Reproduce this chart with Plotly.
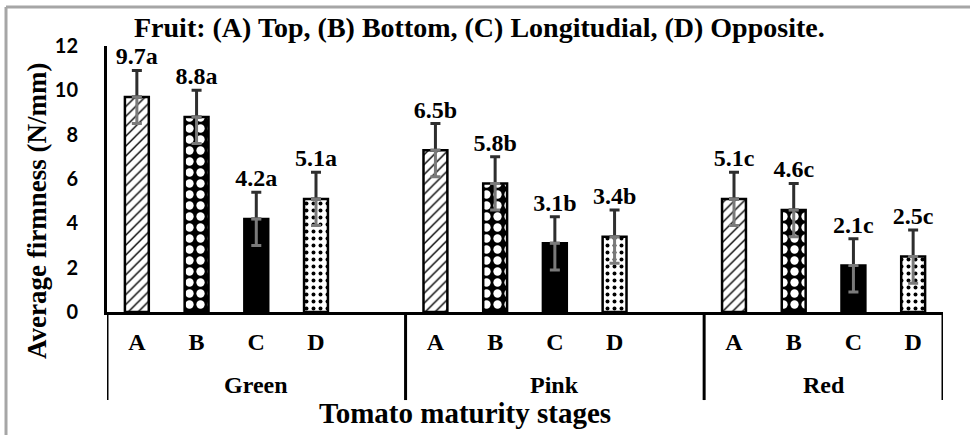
import plotly.graph_objects as go

# maturity stages and cut positions
stages = ["Green", "Pink", "Red"]
positions = ["A", "B", "C", "D"]

# bar heights as drawn (per position, across stages Green/Pink/Red)
firm_a = [9.7, 7.3, 5.1]
firm_b = [8.8, 5.8, 4.6]
firm_c = [4.2, 3.1, 2.1]
firm_d = [5.1, 3.4, 2.5]

# error bar half-lengths
err_a = [1.2, 1.2, 1.2]
err_b = [1.2, 1.2, 1.2]
err_c = [1.2, 1.2, 1.2]
err_d = [1.2, 1.2, 1.2]

# value labels printed above the bars
lbl_a = ["9.7a", "6.5b", "5.1c"]
lbl_b = ["8.8a", "5.8b", "4.6c"]
lbl_c = ["4.2a", "3.1b", "2.1c"]
lbl_d = ["5.1a", "3.4b", "2.5c"]

y_ticks = [0, 2, 4, 6, 8, 10, 12]

SERIF = "Liberation Serif"
SANS = "Lato"

PATTERNS = {
    "A": dict(shape="/", fgcolor="black", bgcolor="white", size=7, solidity=0.2, fillmode="replace"),
    "B": dict(shape=".", fgcolor="white", bgcolor="black", size=11, solidity=0.45, fillmode="replace"),
    "C": dict(shape="", fgcolor="black", bgcolor="black"),
    "D": dict(shape=".", fgcolor="black", bgcolor="white", size=7, solidity=0.25, fillmode="replace"),
}


def cat(stage, pos):
    return f"{stage}-{pos}"


# category order, with an empty slot after Green and Pink
cat_order = []
for i, s in enumerate(stages):
    cat_order += [cat(s, p) for p in positions]
    if i < len(stages) - 1:
        cat_order.append(f"gap{i}")

series = [
    ("A", firm_a, err_a, lbl_a),
    ("B", firm_b, err_b, lbl_b),
    ("C", firm_c, err_c, lbl_c),
    ("D", firm_d, err_d, lbl_d),
]

fig = go.Figure()
for pos, vals, errs, lbls in series:
    xs = [cat(s, pos) for s in stages]
    fig.add_trace(go.Bar(
        x=xs, y=vals, width=0.4,
        marker=dict(color="black" if pos == "C" else "white",
                    line=dict(color="black", width=2.5),
                    pattern=PATTERNS[pos]),
        error_y=dict(type="data", symmetric=False, array=errs, arrayminus=[0] * len(errs),
                     color="#2e2e2e", thickness=3, width=5),
        showlegend=False,
    ))
    # lower half of the error bar is lighter where it sits over the bar
    fig.add_trace(go.Scatter(
        x=xs, y=vals, mode="markers", marker=dict(size=0.1, color="rgba(0,0,0,0)"),
        error_y=dict(type="data", symmetric=False, array=[0] * len(errs), arrayminus=errs,
                     color="#7a7a7a", thickness=3, width=5),
        showlegend=False, hoverinfo="skip",
    ))
    fig.add_trace(go.Scatter(
        x=xs, y=[v + e for v, e in zip(vals, errs)], mode="text", text=lbls,
        textposition="top center",
        textfont=dict(family=SERIF, size=24, color="black", weight="bold"),
        showlegend=False, hoverinfo="skip",
    ))

real_cats = [c for c in cat_order if not c.startswith("gap")]
n = len(cat_order)

fig.update_layout(
    width=970, height=435,
    margin=dict(l=107, r=27, t=46, b=123),
    paper_bgcolor="white", plot_bgcolor="white",
    barmode="overlay",
    xaxis=dict(type="category", categoryorder="array", categoryarray=cat_order,
               range=[-0.5, n - 0.5], tickvals=real_cats,
               ticktext=[c.split("-")[1] for c in real_cats],
               tickfont=dict(family=SERIF, size=24, color="black", weight="bold"),
               ticks="", ticklabelstandoff=6,
               showline=True, linecolor="black", linewidth=3, showgrid=False, zeroline=False),
    yaxis=dict(range=[0, 12], tickvals=y_ticks,
               tickfont=dict(family=SANS, size=20, color="black", weight="bold"),
               ticks="", ticklabelstandoff=22,
               showline=True, linecolor="black", linewidth=3, showgrid=False, zeroline=False),
)

# group separators below the axis
bounds = [-0.5, 4.5, 9.5, n - 0.5]
for b in bounds:
    fig.add_shape(type="line", xref="x", yref="paper", x0=b, x1=b, y0=0, y1=-0.331,
                  line=dict(color="black", width=3))

# group names
for s, lo, hi in zip(stages, bounds[:-1], bounds[1:]):
    fig.add_annotation(x=(lo + hi) / 2, y=-0.274, xref="x", yref="paper", text=s,
                       showarrow=False, yanchor="middle",
                       font=dict(family=SERIF, size=24, color="black", weight="bold"))

fig.add_annotation(x=0.428, y=-0.38, xref="paper", yref="paper", text="Tomato maturity stages",
                   showarrow=False, yanchor="middle",
                   font=dict(family=SERIF, size=29, color="black", weight="bold"))
fig.add_annotation(x=-0.0837, y=0.38, xref="paper", yref="paper", text="Average firmness (N/mm)",
                   showarrow=False, textangle=-90, xanchor="center", yanchor="middle",
                   font=dict(family=SERIF, size=27, color="black", weight="bold"))
fig.add_annotation(x=0.445, y=1.07, xref="paper", yref="paper",
                   text="Fruit: (A) Top, (B) Bottom, (C) Longitudial, (D) Opposite.",
                   showarrow=False, yanchor="middle",
                   font=dict(family=SERIF, size=28, color="black", weight="bold"))

# frame around the picture (only top and left edges are visible)
fig.add_shape(type="line", xref="paper", yref="paper", x0=-0.1208, x1=1.1, y0=1.1466, y1=1.1466,
              line=dict(color="#a6a6a6", width=3))
fig.add_shape(type="line", xref="paper", yref="paper", x0=-0.1208, x1=-0.1208, y0=1.1466, y1=-0.6,
              line=dict(color="#a6a6a6", width=3))

# drop the browser's default body margin so the figure sits at the page origin
fig.write_html("out.html", config={"displayModeBar": False},
               post_script="document.body.style.margin='0';")
